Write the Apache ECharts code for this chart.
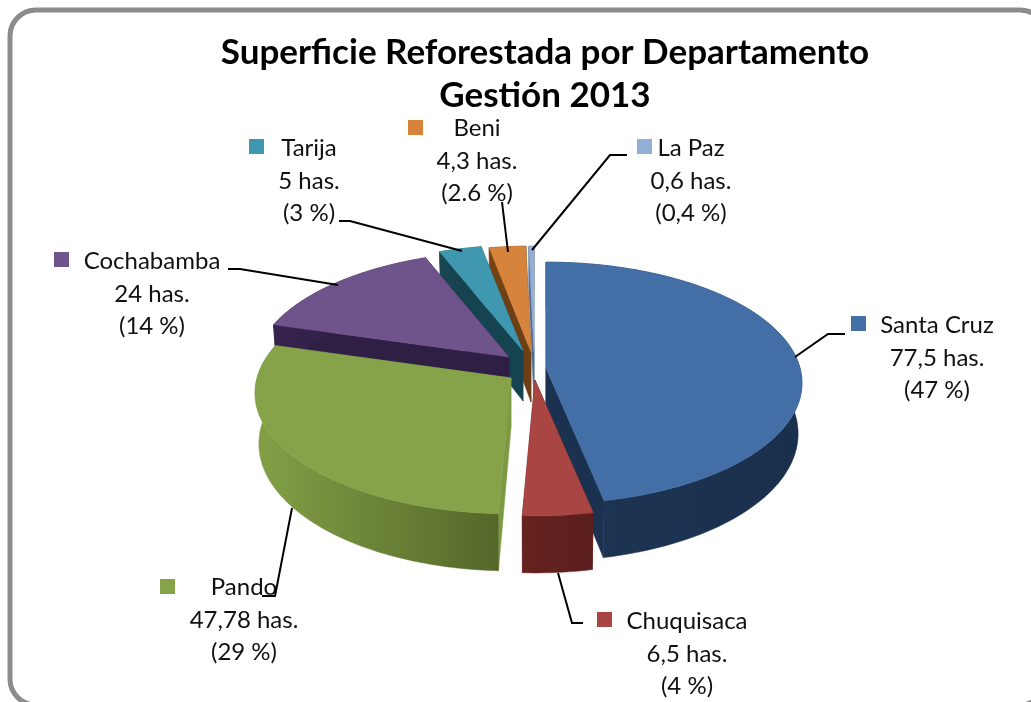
<!DOCTYPE html>
<html><head><meta charset="utf-8">
<style>html,body{margin:0;padding:0;background:#fff}#c{width:1031px;height:702px}</style>
<script src="https://cdn.jsdelivr.net/npm/echarts@6/dist/echarts.min.js"></script>
</head><body><div id="c"></div>
<script>
// ---- data
const departments = ['Santa Cruz','Chuquisaca','Pando','Cochabamba','Tarija','Beni','La Paz'];
const hectares = [77.5,6.5,47.78,24,5,4.3,0.6];
const hectareLabels = ['77,5 has.','6,5 has.','47,78 has.','24 has.','5 has.','4,3 has.','0,6 has.'];
const percentLabels = ['(47 %)','(4 %)','(29 %)','(14 %)','(3 %)','(2.6 %)','(0,4 %)'];
const titleText = 'Superficie Reforestada por Departamento\nGestión 2013';
// ---- styles
const topColors = ['#446fa6','#a94543','#87a34a','#6f538b','#3f98b0','#d6843c','#93aed4'];
const wallColors = [['#1d3655','#1a2f4c'],['#66221f','#5a1f1d'],['#83a046','#556729'],['#35234d','#2f1f45'],['#184652','#143f4b'],['#754314','#6b3c12'],['#56749c','#4c6a92']];
const sideColors = ['#1a3150','#5e201f','#7c9a42','#2f1f45','#154350','#6e3f14','#4e6c94'];
// ---- layout (pie geometry, one exploded apex per slice)
const apexX = [546,535,511,509,523,531,534];
const apexY = [368,380,378,357,351,352,352];
const radiusX = 254, radiusY = 119, perspective = 0.124, depth = 50, rimShrink = 0.985;
const drawOrder = [6,5,4,3,2,0,1];
const keyX = [851,597,160,54,249,408,637];
const keyY = [316,612,579,252,139,120,139];
const textX = [937,687,244,152,309,477,691];
const textY = [358,654,620,294,181,161,181];
const leaderX = [[795,828,845],[558,572,583],[292,275,262],[338,240,228],[462,350,339],[508,502],[532,610,627]];
const leaderY = [[357,334,334],[573,623,623],[508,596,596],[285,269,269],[251,221,221],[252,202],[250,155,155]];

const total = hectares.reduce((a,b)=>a+b,0);
function startFraction(i){let s=0;for(let k=0;k<i;k++)s+=hectares[k];return s/total;}
function project(i,theta){
  const u=Math.sin(theta), v=-Math.cos(theta), s=1/(1-perspective*v);
  return {x:apexX[i]+radiusX*u*s, y:apexY[i]+radiusY*v*s, s};
}
function lower(i,p){return [apexX[i]+(p.x-apexX[i])*rimShrink, p.y+depth*p.s];}
function renderSlice(params,api){
  const i=api.value(0);
  const a0=startFraction(i)*2*Math.PI, a1=a0+hectares[i]/total*2*Math.PI;
  const n=Math.max(2,Math.ceil((a1-a0)/0.02));
  const rim=[];for(let k=0;k<=n;k++)rim.push(project(i,a0+(a1-a0)*k/n));
  const ax=apexX[i], ay=apexY[i];
  const apexLow=[ax,ay+depth];
  const top=[[ax,ay]].concat(rim.map(p=>[p.x,p.y]));
  const outer=rim.map(p=>[p.x,p.y]).concat(rim.slice().reverse().map(p=>lower(i,p)));
  const side=(p)=>[[ax,ay],[p.x,p.y],lower(i,p),apexLow];
  const grad={type:'linear',x:0,y:0,x2:1,y2:0,colorStops:[{offset:0,color:wallColors[i][0]},{offset:1,color:wallColors[i][1]}]};
  const poly=(pts,fill)=>({type:'polygon',shape:{points:pts},style:{fill,stroke:fill,lineWidth:0.5},silent:true});
  return {type:'group',children:[
    poly(side(rim[n]),sideColors[i]),
    poly(side(rim[0]),sideColors[i]),
    poly(outer,grad),
    poly(top,topColors[i])
  ]};
}
const graphics=[{type:'rect',shape:{x:10,y:10,width:1036,height:695,r:26},style:{fill:'#fff',stroke:'#8c8c8c',lineWidth:5},z:0}];
departments.forEach((d,i)=>{
  graphics.push({type:'rect',shape:{x:keyX[i],y:keyY[i],width:15,height:15},style:{fill:topColors[i]},z:5});
  graphics.push({type:'text',x:textX[i],y:textY[i],z:6,style:{text:d+'\n'+hectareLabels[i]+'\n'+percentLabels[i],font:'24px Lato',fill:'#111',align:'center',verticalAlign:'middle',lineHeight:32.5}});
  graphics.push({type:'polyline',shape:{points:leaderX[i].map((x,k)=>[x,leaderY[i][k]])},style:{stroke:'#000',lineWidth:2,fill:null},z:7});
});
const chart=echarts.init(document.getElementById('c'),null,{renderer:'canvas'});
chart.setOption({
  animation:false,backgroundColor:'#fff',
  title:{text:titleText,left:540,top:26,textAlign:'center',textStyle:{fontFamily:'Lato',fontWeight:'bold',fontSize:35,lineHeight:43,color:'#000'},z:8},
  graphic:graphics,
  series:[{type:'custom',coordinateSystem:'none',renderItem:renderSlice,z:3,silent:true,
    data:drawOrder.map(i=>({value:[i,hectares[i]],name:departments[i]}))}]
});
</script></body></html>
